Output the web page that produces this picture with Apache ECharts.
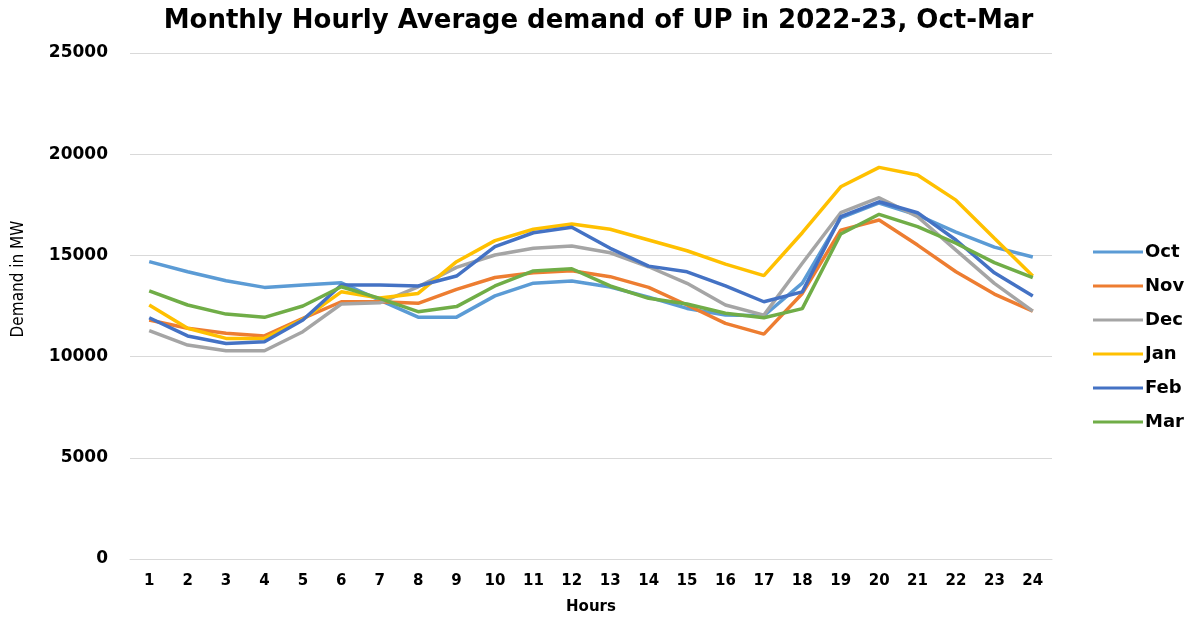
<!DOCTYPE html>
<html>
<head>
<meta charset="utf-8">
<script src="https://cdn.jsdelivr.net/npm/echarts@6/dist/echarts.min.js"></script>
<style>
  html, body { margin: 0; padding: 0; background: #fff; }
  #chart { width: 1197px; height: 620px; }
</style>
</head>
<body>
<div id="chart"></div>
<script>
const hours = ['1','2','3','4','5','6','7','8','9','10','11','12','13','14','15','16','17','18','19','20','21','22','23','24']

const oct = [14690, 14190, 13750, 13420, 13540, 13650, 12790, 11950, 11950, 13000, 13630, 13730, 13440, 12940, 12380, 12050, 12020, 13630, 16850, 17590, 16990, 16150, 15410, 14920]
const nov = [11810, 11400, 11150, 11020, 11890, 12710, 12710, 12630, 13320, 13910, 14140, 14240, 13950, 13420, 12550, 11640, 11110, 13120, 16250, 16750, 15510, 14190, 13090, 12250]
const dec = [11280, 10570, 10290, 10290, 11230, 12600, 12660, 13450, 14410, 15020, 15350, 15460, 15130, 14440, 13620, 12550, 12050, 14610, 17110, 17850, 16910, 15260, 13620, 12250]
const jan = [12550, 11400, 10900, 10900, 11840, 13200, 12890, 13120, 14690, 15730, 16290, 16550, 16290, 15760, 15230, 14570, 14000, 16120, 18390, 19350, 18970, 17730, 15850, 13980]
const feb = [11920, 11020, 10650, 10730, 11810, 13540, 13540, 13490, 13980, 15430, 16120, 16390, 15350, 14470, 14190, 13490, 12710, 13200, 16910, 17650, 17110, 15760, 14140, 12990]
const mar = [13250, 12550, 12100, 11940, 12500, 13450, 12880, 12220, 12470, 13490, 14230, 14340, 13490, 12880, 12600, 12140, 11920, 12370, 16060, 17030, 16420, 15600, 14640, 13900]

const months = ['Oct', 'Nov', 'Dec', 'Jan', 'Feb', 'Mar']
const colors = ['#5B9BD5', '#ED7D31', '#A5A5A5', '#FFC000', '#4472C4', '#70AD47']
const values = [oct, nov, dec, jan, feb, mar]

let myChart = echarts.init(document.getElementById('chart'))

let option = {
    animation: false,
    color: colors,
    title: {
        text: 'Monthly Hourly Average demand of UP in 2022-23, Oct-Mar',
        left: 'center',
        top: 3,
        textStyle: {
            fontFamily: 'DejaVu Sans',
            fontWeight: 'bold',
            fontSize: 26,
            color: '#000'
        }
    },
    legend: {
        orient: 'vertical',
        left: 1088,
        top: 238,
        itemWidth: 50,
        itemHeight: 3,
        itemGap: 16,
        icon: 'rect',
        data: months,
        textStyle: {
            fontFamily: 'DejaVu Sans',
            fontWeight: 'bold',
            fontSize: 18,
            color: '#000',
            padding: [0, 0, 0, -3]
        }
    },
    grid: {
        left: 130,
        right: 145,
        top: 53,
        bottom: 61
    },
    xAxis: {
        type: 'category',
        data: hours,
        boundaryGap: true,
        name: 'Hours',
        nameLocation: 'middle',
        nameGap: 41,
        nameTextStyle: {
            fontFamily: 'DejaVu Sans',
            fontWeight: 'bold',
            fontSize: 15,
            color: '#000'
        },
        axisLine: { lineStyle: { color: '#d9d9d9', width: 1 } },
        axisTick: { show: false },
        axisLabel: {
            margin: 15,
            fontFamily: 'DejaVu Sans',
            fontWeight: 'bold',
            fontSize: 15,
            color: '#000'
        }
    },
    yAxis: {
        type: 'value',
        min: 0,
        max: 25000,
        interval: 5000,
        name: 'Demand in MW',
        nameLocation: 'middle',
        nameGap: 103,
        nameTextStyle: {
            fontFamily: 'DejaVu Sans Condensed',
            fontSize: 17,
            color: '#000',
            padding: [0, 0, 0, 54]
        },
        axisLine: { show: false },
        axisTick: { show: false },
        splitLine: { lineStyle: { color: '#d9d9d9', width: 1 } },
        axisLabel: {
            margin: 22,
            formatter: v => String(v),
            fontFamily: 'DejaVu Sans',
            fontWeight: 'bold',
            fontSize: 17,
            color: '#000'
        }
    },
    series: months.map((m, i) => ({
        name: m,
        type: 'line',
        data: values[i],
        symbol: 'none',
        lineStyle: { width: 3.5, color: colors[i] },
        itemStyle: { color: colors[i] }
    }))
}

myChart.setOption(option)
</script>
</body>
</html>
